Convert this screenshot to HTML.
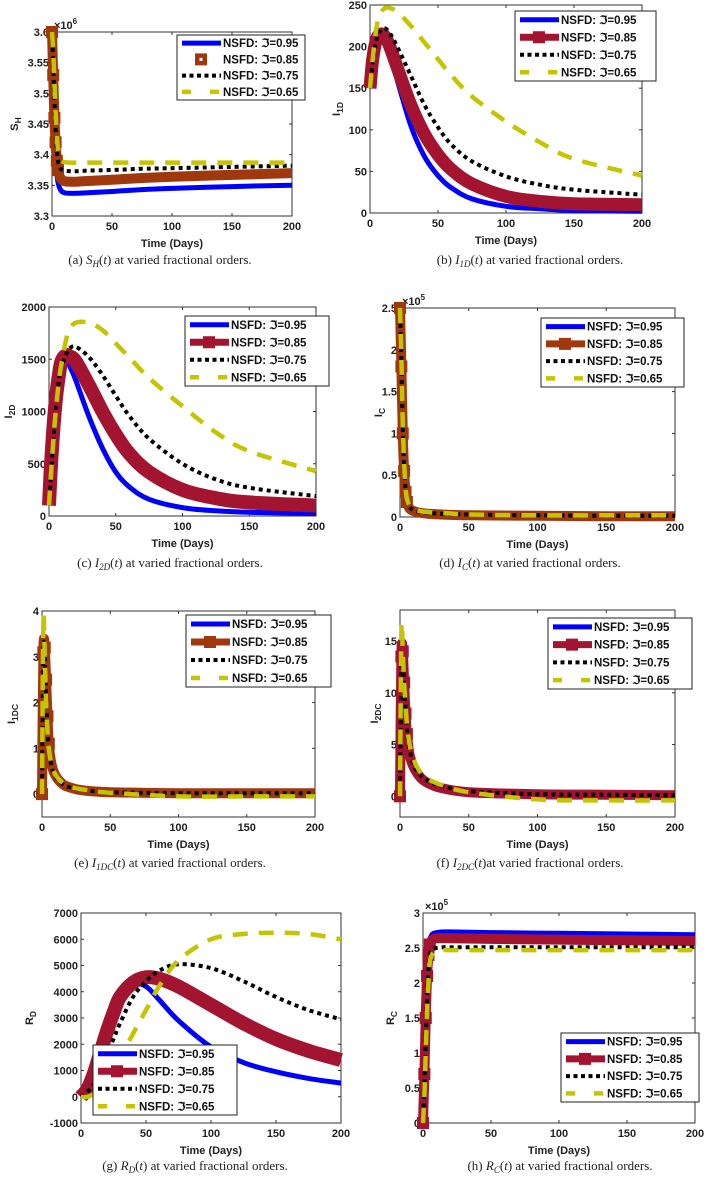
<!DOCTYPE html>
<html><head><meta charset="utf-8"><style>
html,body{margin:0;padding:0;background:#fff;}
svg{display:block;}
.tk{font:bold 11px "Liberation Sans",Arial,sans-serif;fill:#222;}
.lg{font:bold 11.5px "Liberation Sans",Arial,sans-serif;fill:#111;}
.cap{font:13px "Liberation Serif","DejaVu Serif",serif;fill:#222;}
</style></head><body>
<svg id="fig" width="705" height="1178" viewBox="0 0 705 1178" xmlns="http://www.w3.org/2000/svg"></svg>
<script>
// ---- data ----
const seriesLabels = ["NSFD: \u2111=0.95","NSFD: \u2111=0.85","NSFD: \u2111=0.75","NSFD: \u2111=0.65"];
const xTicks = [0,50,100,150,200];

const tA = [0,1,2,3,4,5,7,10,15,20,30,50,75,100,150,200];
const aS95 = [3.6,3.52,3.45,3.40,3.37,3.355,3.343,3.338,3.337,3.337,3.338,3.340,3.343,3.345,3.348,3.350];
const aS85 = [3.6,3.53,3.46,3.42,3.39,3.375,3.362,3.357,3.356,3.356,3.357,3.359,3.362,3.364,3.367,3.370];
const aS75 = [3.6,3.55,3.49,3.44,3.41,3.39,3.378,3.374,3.373,3.373,3.374,3.375,3.377,3.378,3.380,3.382];
const aS65 = [3.6,3.57,3.52,3.47,3.43,3.41,3.392,3.388,3.387,3.387,3.387,3.387,3.387,3.387,3.387,3.387];
const aTicks = [3.3,3.35,3.4,3.45,3.5,3.55,3.6];

const tB = [0,2,5,8,10,12,15,20,30,40,50,60,75,100,125,150,200];
const bS95 = [150,185,210,215,212,205,190,160,105,68,45,30,17,8,5,3,2];
const bS85 = [150,185,210,215,214,210,198,175,130,95,70,52,35,20,14,11,10];
const bS75 = [150,180,210,220,222,221,215,200,165,130,103,82,62,44,34,28,22];
const bS65 = [150,185,225,240,245,247,246,242,225,205,185,165,140,110,85,65,45];
const bTicks = [0,50,100,150,200,250];

const tC = [0,2,5,8,10,13,15,20,30,40,50,60,75,100,125,150,200];
const cS95 = [100,600,1100,1400,1500,1530,1450,1300,950,650,420,280,160,80,50,35,25];
const cS85 = [100,600,1100,1400,1500,1540,1530,1480,1250,1000,780,600,420,250,170,130,100];
const cS75 = [100,500,1000,1350,1450,1550,1600,1620,1520,1350,1150,960,740,500,350,270,190];
const cS65 = [100,500,1000,1350,1500,1700,1780,1850,1850,1780,1650,1520,1320,1050,800,620,430];
const cTicks = [0,500,1000,1500,2000];

const tD = [0,1,2,3,4,5,7,10,15,20,30,50,100,150,200];
const dS95 = [2.5,1.75,0.95,0.5,0.28,0.17,0.1,0.07,0.05,0.04,0.03,0.02,0.015,0.01,0.01];
const dS85 = [2.5,1.8,1.0,0.55,0.3,0.18,0.1,0.07,0.05,0.04,0.03,0.02,0.015,0.01,0.01];
const dS75 = [2.5,1.85,1.05,0.6,0.33,0.2,0.12,0.08,0.06,0.05,0.04,0.03,0.02,0.015,0.015];
const dS65 = [2.5,1.9,1.1,0.65,0.36,0.22,0.13,0.09,0.07,0.06,0.05,0.03,0.02,0.02,0.02];
const dTicks = [0,0.5,1,1.5,2,2.5];

const tE = [0,1,2,3,4,5,7,10,15,20,30,50,100,150,200];
const eS95 = [0,3.0,3.2,2.4,1.6,1.0,0.6,0.35,0.2,0.13,0.07,0.03,0.02,0.02,0.02];
const eS85 = [0,3.1,3.2,2.5,1.7,1.1,0.65,0.4,0.22,0.15,0.08,0.04,0.02,0.02,0.02];
const eS75 = [0,3.1,3.0,2.2,1.5,1.0,0.6,0.38,0.22,0.15,0.09,0.04,0.02,0.02,0.02];
const eS65 = [0,3.8,3.0,2.0,1.4,1.0,0.65,0.42,0.25,0.17,0.1,0.03,-0.05,-0.05,-0.05];
const eTicks = [0,1,2,3,4];

const tF = [0,1,2,3,4,5,7,10,15,20,30,50,100,150,200];
const fS95 = [0,13,13.5,10,7,5,3.5,2.5,1.6,1.1,0.7,0.35,0.15,0.1,0.1];
const fS85 = [0,13.5,14,11,8,6,4,2.8,1.8,1.3,0.8,0.4,0.2,0.15,0.1];
const fS75 = [0,12,13.5,11,8.5,6.5,4.5,3,2,1.5,1.0,0.5,0.2,0.15,0.1];
const fS65 = [0,16,14,11,9,7,5,3.5,2.3,1.7,1.1,0.4,-0.3,-0.4,-0.4];
const fTicks = [0,5,10,15];

const tG = [0,5,10,15,20,25,30,40,50,60,75,100,125,150,175,200];
const gS95 = [0,300,900,1700,2600,3300,3900,4300,4200,3700,2900,1900,1300,950,700,520];
const gS85 = [0,300,900,1700,2500,3200,3800,4350,4550,4500,4200,3500,2800,2200,1750,1400];
const gS75 = [0,200,500,1000,1600,2200,2800,3800,4400,4800,5050,4900,4400,3800,3300,2950];
const gS65 = [0,0,100,300,600,1000,1500,2400,3300,4200,5200,6000,6200,6250,6200,6000];
const gTicks = [-1000,0,1000,2000,3000,4000,5000,6000,7000];

const tH = [0,1,2,3,4,5,7,10,15,20,50,100,150,200];
const hS95 = [0,0.8,1.6,2.2,2.5,2.62,2.7,2.72,2.73,2.73,2.72,2.71,2.70,2.69];
const hS85 = [0,0.7,1.5,2.1,2.4,2.55,2.62,2.64,2.64,2.64,2.63,2.62,2.61,2.60];
const hS75 = [0,0.5,1.2,1.8,2.2,2.4,2.48,2.5,2.51,2.51,2.51,2.51,2.51,2.51];
const hS65 = [0,0.4,1.0,1.6,2.0,2.3,2.42,2.46,2.47,2.47,2.47,2.47,2.47,2.47];
const hTicks = [0,0.5,1,1.5,2,2.5,3];

// ---- drawing ----
const NS = "http://www.w3.org/2000/svg";
const fig = document.getElementById('fig');
function mk(tag, attrs, parent){
  const e = document.createElementNS(NS, tag);
  for (const k in attrs) e.setAttribute(k, attrs[k]);
  (parent||fig).appendChild(e);
  return e;
}
function styleFor(i, redCol, w85){
  if (i===0) return {stroke:"#0000ff", w:5, dash:null};
  if (i===1) return {stroke:redCol, w:w85||10, dash:null};
  if (i===2) return {stroke:"#000", w:4, dash:"4 4"};
  return {stroke:"#c4c400", w:4.5, dash:"15 11"};
}
function smoothPath(pts){
  let d = 'M' + pts[0][0].toFixed(1) + ',' + pts[0][1].toFixed(1);
  for (let i = 0; i < pts.length - 1; i++){
    const p0 = pts[Math.max(0,i-1)], p1 = pts[i], p2 = pts[i+1], p3 = pts[Math.min(pts.length-1,i+2)];
    const c1x = p1[0] + (p2[0]-p0[0])/6, c1y = p1[1] + (p2[1]-p0[1])/6;
    const c2x = p2[0] - (p3[0]-p1[0])/6, c2y = p2[1] - (p3[1]-p1[1])/6;
    d += ' C' + c1x.toFixed(1) + ',' + c1y.toFixed(1) + ' ' + c2x.toFixed(1) + ',' + c2y.toFixed(1) + ' ' + p2[0].toFixed(1) + ',' + p2[1].toFixed(1);
  }
  return d;
}
function panel(p){
  const g = mk('g', {});
  
  
  const xs = v => p.L + (v - 0) / 200 * (p.R - p.L);
  const ys = v => p.B - (v - p.ymin) / (p.ymax - p.ymin) * (p.B - p.T);
  const clip = mk('clipPath', {id:'clip'+p.id}, g);
  mk('rect', {x:p.L-7, y:p.T-7, width:p.R-p.L+14, height:p.B-p.T+14}, clip);
  const box = mk('rect', {x:p.L, y:p.T, width:p.R-p.L, height:p.B-p.T, fill:"none", stroke:"#333", "stroke-width":1}, g);
  
  
  xTicks.forEach(v => {
    const x = xs(v);
    mk('line', {x1:x, y1:p.B, x2:x, y2:p.B-3, stroke:"#333"}, g);
    mk('line', {x1:x, y1:p.T, x2:x, y2:p.T+3, stroke:"#333"}, g);
    const t = mk('text', {x:x, y:p.B+14, "text-anchor":"middle", class:"tk"}, g);
    t.textContent = v;
    
    
  });
  p.yt.forEach(v => {
    const y = ys(v);
    mk('line', {x1:p.L, y1:y, x2:p.L+3, y2:y, stroke:"#333"}, g);
    mk('line', {x1:p.R, y1:y, x2:p.R-3, y2:y, stroke:"#333"}, g);
    const t = mk('text', {x:p.L-3, y:y+4, "text-anchor":"end", class:"tk"}, g);
    t.textContent = v;
    
    
  });
  if (p.exp){
    const t = mk('text', {x:p.L+2, y:p.T-3, class:"tk", "font-weight":"normal"}, g);
    t.innerHTML = '\u00d710<tspan dy="-5" font-size="8">' + p.exp + '</tspan>';
    
    
  }
  const cg = mk('g', {"clip-path":"url(#clip"+p.id+")"}, g);
  [0,1,2,3].forEach(i => {
    const st = styleFor(i, p.red, p.w85);
    const pts = p.t.map((tv, j) => [xs(tv), ys(p.s[i][j])]);
    const a = {d:smoothPath(pts), fill:"none", stroke:st.stroke, "stroke-width":st.w, "stroke-linejoin":"round"};
    if (st.dash) a["stroke-dasharray"] = st.dash;
    const path = mk('path', a, cg);
    
    
    if (i===1 && p.marks){
      p.t.forEach((tv, j) => {
        if (tv <= p.marks){
          const m = mk('rect', {x:xs(tv)-6, y:ys(p.s[1][j])-6, width:12, height:12, fill:p.red}, cg);
          
          
        }
      });
    }
  });
  const xl = mk('text', {x:(p.L+p.R)/2, y:p.B+31, "text-anchor":"middle", class:"tk", "font-size":"12"}, g);
  xl.textContent = "Time (Days)";
  
  
  const yl = mk('text', {transform:"translate(" + p.ylx + "," + (p.T+p.B)/2 + ") rotate(-90)", "text-anchor":"middle", class:"tk", "font-size":"12"}, g);
  yl.innerHTML = p.yn + '<tspan dy="3" font-size="8.5">' + p.ysub + '</tspan>';
  
  
  const cap = mk('text', {x:p.capX, y:p.capY, "text-anchor":"middle", class:"cap"}, g);
  cap.innerHTML = p.cap;
  
  
  const lg = mk('g', {}, g);
  
  
  const [lx, ly, lw, lh] = p.leg;
  mk('rect', {x:lx, y:ly, width:lw, height:lh, fill:"#fff", stroke:"#222", "stroke-width":1}, lg);
  const rh = lh / 4;
  for (let i = 0; i < 4; i++){
    const cy = ly + rh*(i+0.5);
    const st = styleFor(i, p.red, p.w85);
    const e = mk('g', {}, lg);
    
    
    if (!(i===1 && p.legMarkOnly)){
      const a = {x1:lx+5, y1:cy, x2:lx+44, y2:cy, stroke:st.stroke, "stroke-width":Math.min(st.w,7)};
      if (st.dash) a["stroke-dasharray"] = i===3 ? "9 19" : "4 3.5";
      mk('line', a, e);
    }
    if (i===1){
      mk('rect', {x:lx+18, y:cy-6, width:12, height:12, fill:p.red}, e);
      if (p.legMarkOnly) mk('rect', {x:lx+22.5, y:cy-1.5, width:3, height:3, fill:"#fff"}, e);
    }
    const t = mk('text', {x:lx+46, y:cy+4, class:"lg"}, e);
    t.textContent = seriesLabels[i];
  }
}
const RED = "#a2142f", BRN = "#a0380e";
panel({id:'a', L:52, R:292, T:32, B:216, ymin:3.3, ymax:3.6, yt:aTicks, t:tA, s:[aS95,aS85,aS75,aS65], red:BRN, marks:5, exp:'6',
  yn:'S', ysub:'H', ylx:18, capX:160, capY:264, leg:[177,35,128,65], legMarkOnly:true,
  cap:'(a) <tspan font-style="italic">S</tspan><tspan font-style="italic" font-size="9" dy="3">H</tspan><tspan dy="-3">(</tspan><tspan font-style="italic">t</tspan>) at varied fractional orders.'});
panel({id:'b', L:370, R:642, T:5, B:213, ymin:0, ymax:250, yt:bTicks, t:tB, s:[bS95,bS85,bS75,bS65], red:RED, w85:13,
  yn:'I', ysub:'1D', ylx:340, capX:530, capY:264, leg:[515,11,141,70],
  cap:'(b) <tspan font-style="italic">I</tspan><tspan font-size="9" dy="3" font-style="italic">1D</tspan><tspan dy="-3">(</tspan><tspan font-style="italic">t</tspan>) at varied fractional orders.'});
panel({id:'c', L:49, R:316, T:307, B:516, ymin:0, ymax:2000, yt:cTicks, t:tC, s:[cS95,cS85,cS75,cS65], red:RED, w85:14,
  yn:'I', ysub:'2D', ylx:12, capX:170, capY:567, leg:[185,316,144,70],
  cap:'(c) <tspan font-style="italic">I</tspan><tspan font-size="9" dy="3" font-style="italic">2D</tspan><tspan dy="-3">(</tspan><tspan font-style="italic">t</tspan>) at varied fractional orders.'});
panel({id:'d', L:400, R:675, T:308, B:517, ymin:0, ymax:2.5, yt:dTicks, t:tD, s:[dS95,dS85,dS75,dS65], red:BRN, marks:5, exp:'5',
  yn:'I', ysub:'C', ylx:382, capX:530, capY:567, leg:[541,318,143,69],
  cap:'(d) <tspan font-style="italic">I</tspan><tspan font-size="9" dy="3" font-style="italic">C</tspan><tspan dy="-3">(</tspan><tspan font-style="italic">t</tspan>) at varied fractional orders.'});
panel({id:'e', L:42, R:315, T:611, B:817, ymin:-0.5, ymax:4, yt:eTicks, t:tE, s:[eS95,eS85,eS75,eS65], red:BRN, marks:5,
  yn:'I', ysub:'1DC', ylx:15, capX:170, capY:867, leg:[186,615,145,72],
  cap:'(e) <tspan font-style="italic">I</tspan><tspan font-size="9" dy="3" font-style="italic">1DC</tspan><tspan dy="-3">(</tspan><tspan font-style="italic">t</tspan>) at varied fractional orders.'});
panel({id:'f', L:400, R:675, T:610, B:817, ymin:-2, ymax:18, yt:fTicks, t:tF, s:[fS95,fS85,fS75,fS65], red:RED, marks:5,
  yn:'I', ysub:'2DC', ylx:378, capX:530, capY:867, leg:[548,618,144,71],
  cap:'(f) <tspan font-style="italic">I</tspan><tspan font-size="9" dy="3" font-style="italic">2DC</tspan><tspan dy="-3">(</tspan><tspan font-style="italic">t</tspan>)at varied fractional orders.'});
panel({id:'g', L:81, R:341, T:913, B:1123, ymin:-1000, ymax:7000, yt:gTicks, t:tG, s:[gS95,gS85,gS75,gS65], red:RED, w85:14,
  yn:'R', ysub:'D', ylx:33, capX:195, capY:1170, leg:[93,1045,144,70],
  cap:'(g) <tspan font-style="italic">R</tspan><tspan font-size="9" dy="3" font-style="italic">D</tspan><tspan dy="-3">(</tspan><tspan font-style="italic">t</tspan>) at varied fractional orders.'});
panel({id:'h', L:423, R:695, T:913, B:1123, ymin:0, ymax:3, yt:hTicks, t:tH, s:[hS95,hS85,hS75,hS65], red:RED, marks:5, exp:'5',
  yn:'R', ysub:'C', ylx:394, capX:560, capY:1170, leg:[561,1033,138,69],
  cap:'(h) <tspan font-style="italic">R</tspan><tspan font-size="9" dy="3" font-style="italic">C</tspan><tspan dy="-3">(</tspan><tspan font-style="italic">t</tspan>) at varied fractional orders.'});
</script>
</body></html>
